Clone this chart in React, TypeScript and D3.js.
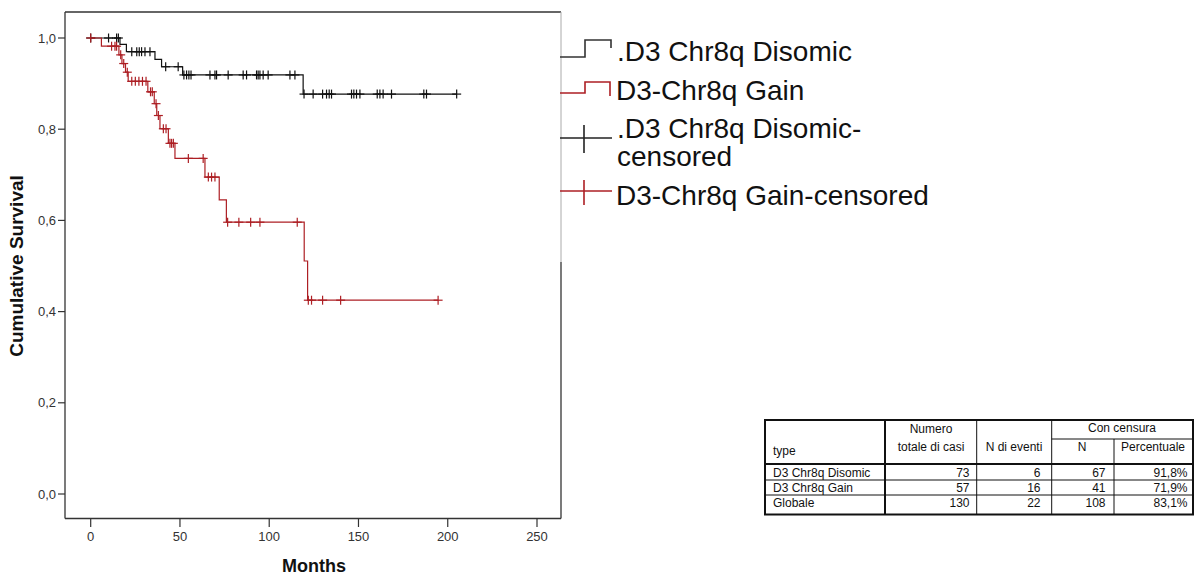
import React from "react";
import * as d3 from "d3";

// Kaplan–Meier curves: event times (months) and survival level after each event
const disomicEventTimes = [16.4, 20, 36, 39.7, 51.5, 119];
const disomicSurvival = [0.986, 0.97, 0.953, 0.937, 0.919, 0.877];
const disomicEnd = 205;
const disomicCensored = [
  0, 10, 14.5, 15.5, 23, 25.8, 27.2, 28.5, 30.4, 33.2, 42, 49, 52.2, 53.7, 55, 56.2,
  66.8, 69.6, 70.5, 77, 85.4, 87.3, 92.9, 93.8, 94.8, 96.6, 99.4, 111.6, 114.4, 119.5,
  124.6, 129.9, 132.1, 133.6, 134.9, 146.1, 147.4, 148.9, 150.8, 160.5, 162, 163.8,
  168.5, 186.6, 188.1, 205,
];

const gainEventTimes = [6, 15.8, 17.5, 19.5, 21, 32, 35.6, 37, 38.8, 43.5, 47.2, 64, 72, 76, 119.6, 121.5];
const gainSurvival = [
  0.982, 0.963, 0.944, 0.925, 0.905, 0.882, 0.856, 0.83, 0.801, 0.769, 0.736, 0.695, 0.645,
  0.596, 0.511, 0.425,
];
const gainEnd = 194.6;
const gainCensored = [
  0, 11.7, 13.6, 14.5, 16.8, 18.5, 20.5, 23, 25, 27, 29, 31, 33.5, 34.5, 36.6, 37.9, 40.7,
  42.2, 44.4, 45.3, 46.3, 54.7, 63, 65.9, 67.7, 69.6, 76.7, 83, 89.6, 94.8, 115.7, 121.9,
  123.7, 129.9, 140, 194.6,
];

const xTicks = [0, 50, 100, 150, 200, 250];
const yTicks = [0, 0.2, 0.4, 0.6, 0.8, 1.0];

const legendLabels = [".D3 Chr8q Disomic", "D3-Chr8q Gain", ".D3 Chr8q Disomic-", "censored", "D3-Chr8q Gain-censored"];

// Case processing summary
const tableGroups = ["D3 Chr8q Disomic", "D3 Chr8q Gain", "Globale"];
const tableTotals = [73, 57, 130];
const tableEvents = [6, 16, 22];
const tableCensoredN = [67, 41, 108];
const tableCensoredPct = ["91,8%", "71,9%", "83,1%"];

const BLACK = "#111";
const RED = "#ad1f24";
const FONT = "'Liberation Sans', Arial, sans-serif";

function stepPoints(times: number[], surv: number[], end: number): [number, number][] {
  const pts: [number, number][] = [[0, 1]];
  times.forEach((t, i) => pts.push([t, surv[i]]));
  pts.push([end, surv[surv.length - 1]]);
  return pts;
}

function survivalAt(times: number[], surv: number[], t: number): number {
  let s = 1;
  for (let i = 0; i < times.length; i++) if (times[i] <= t) s = surv[i];
  return s;
}

export default function App() {
  const frame = { left: 65, top: 12, right: 561, bottom: 518.5 };
  const x = d3.scaleLinear().domain([0, 250]).range([90.7, 537]);
  const y = d3.scaleLinear().domain([0, 1]).range([494, 38]);
  const line = d3
    .line<[number, number]>()
    .x((d) => x(d[0]))
    .y((d) => y(d[1]))
    .curve(d3.curveStepAfter);

  const series = [
    { times: disomicEventTimes, surv: disomicSurvival, end: disomicEnd, cens: disomicCensored, color: BLACK },
    { times: gainEventTimes, surv: gainSurvival, end: gainEnd, cens: gainCensored, color: RED },
  ];

  const fmt = (v: number) => v.toFixed(1).replace(".", ",");

  // table geometry
  const tL = 765, tT = 420, tR = 1193, tB = 514.5;
  const colX = [885, 976.7, 1051.7, 1114];
  const hdrB = 464, subH = 439;
  const rowLines = [480, 495];
  const rowBase = [476.5, 491.5, 507];
  const numRight = [969.5, 1040.5, 1105.5, 1187.5];

  return (
    <svg
      width={1195}
      height={577}
      style={{ position: "absolute", left: 0, top: 0, background: "#fff" }}
      fontFamily={FONT}
    >
      <rect x={0} y={0} width={1195} height={577} fill="#fff" />

      {/* plot frame */}
      <line x1={frame.left} x2={frame.left} y1={frame.top} y2={frame.bottom} stroke="#333" strokeWidth={1.3} />
      <line x1={frame.left} x2={frame.right} y1={frame.top} y2={frame.top} stroke="#333" strokeWidth={1.3} />
      <line x1={frame.left} x2={frame.right} y1={frame.bottom} y2={frame.bottom} stroke="#333" strokeWidth={1.3} />
      <line x1={frame.right} x2={frame.right} y1={frame.top} y2={262} stroke="#aaa" strokeWidth={1} />
      <line x1={frame.right} x2={frame.right} y1={262} y2={frame.bottom} stroke="#333" strokeWidth={1.3} />

      {/* y axis */}
      {yTicks.map((t) => (
        <g key={"y" + t}>
          <line x1={58} x2={frame.left} y1={y(t)} y2={y(t)} stroke="#333" strokeWidth={1.2} />
          <text x={56} y={y(t)} dy="0.35em" textAnchor="end" fontSize={13} fill="#333">
            {fmt(t)}
          </text>
        </g>
      ))}
      <text
        transform={`translate(23,${(y(0) + y(1)) / 2}) rotate(-90)`}
        textAnchor="middle"
        fontSize={19}
        fontWeight="bold"
        fill="#111"
      >
        Cumulative Survival
      </text>

      {/* x axis */}
      {xTicks.map((t) => (
        <g key={"x" + t}>
          <line x1={x(t)} x2={x(t)} y1={frame.bottom} y2={527} stroke="#333" strokeWidth={1.2} />
          <text x={x(t)} y={541} textAnchor="middle" fontSize={13} fill="#333">
            {t}
          </text>
        </g>
      ))}
      <text x={314} y={572} textAnchor="middle" fontSize={18} fontWeight="bold" fill="#111">
        Months
      </text>

      {/* survival curves with censoring marks */}
      {series.map((s, i) => (
        <g key={"s" + i}>
          <path d={line(stepPoints(s.times, s.surv, s.end)) || ""} fill="none" stroke={s.color} strokeWidth={1.2} />
          {s.cens.map((c, j) => {
            const cx = x(c);
            const cy = y(survivalAt(s.times, s.surv, c));
            return (
              <g key={j} stroke={s.color} strokeWidth={1.2}>
                <line x1={cx} x2={cx} y1={cy - 4.5} y2={cy + 4.5} />
                <line x1={cx - 4.5} x2={cx + 4.5} y1={cy} y2={cy} />
              </g>
            );
          })}
        </g>
      ))}

      {/* legend */}
      <g fill="none" strokeWidth={1.6}>
        <path d="M560,57 H585 V40 H611 V48" stroke="#333" />
        <path d="M560,93 H585 V82 H610 V96" stroke={RED} />
        <line x1={560} x2={612} y1={138} y2={138} stroke="#222" />
        <line x1={584} x2={584} y1={125} y2={153} stroke="#222" />
        <line x1={560} x2={612} y1={191} y2={191} stroke={RED} />
        <line x1={584} x2={584} y1={180} y2={205} stroke={RED} />
      </g>
      <g fontSize={28} fill="#111">
        <text x={617} y={61}>{legendLabels[0]}</text>
        <text x={616} y={100}>{legendLabels[1]}</text>
        <text x={617} y={138}>{legendLabels[2]}</text>
        <text x={617} y={166}>{legendLabels[3]}</text>
        <text x={616} y={205}>{legendLabels[4]}</text>
      </g>

      {/* case summary table */}
      <g stroke="#111" fill="none">
        <rect x={tL} y={tT} width={tR - tL} height={tB - tT} strokeWidth={2} />
        <line x1={tL} x2={tR} y1={hdrB} y2={hdrB} strokeWidth={2} />
        <line x1={colX[0]} x2={colX[0]} y1={tT} y2={tB} strokeWidth={2} />
        <line x1={colX[1]} x2={colX[1]} y1={tT} y2={tB} strokeWidth={1} />
        <line x1={colX[2]} x2={colX[2]} y1={tT} y2={tB} strokeWidth={1} />
        <line x1={colX[3]} x2={colX[3]} y1={subH} y2={tB} strokeWidth={1} />
        <line x1={colX[2]} x2={tR} y1={subH} y2={subH} strokeWidth={1} />
        {rowLines.map((r) => (
          <line key={r} x1={tL} x2={tR} y1={r} y2={r} strokeWidth={1} />
        ))}
      </g>
      <g fontSize={12} fill="#111">
        <text x={773} y={454.5}>type</text>
        <text x={931} y={433} textAnchor="middle">Numero</text>
        <text x={931} y={451} textAnchor="middle">totale di casi</text>
        <text x={1014} y={451} textAnchor="middle">N di eventi</text>
        <text x={1122} y={431.5} textAnchor="middle">Con censura</text>
        <text x={1082} y={451} textAnchor="middle">N</text>
        <text x={1153} y={451} textAnchor="middle">Percentuale</text>
        {tableGroups.map((g, i) => (
          <g key={g}>
            <text x={773} y={rowBase[i]}>{g}</text>
            <text x={numRight[0]} y={rowBase[i]} textAnchor="end">{tableTotals[i]}</text>
            <text x={numRight[1]} y={rowBase[i]} textAnchor="end">{tableEvents[i]}</text>
            <text x={numRight[2]} y={rowBase[i]} textAnchor="end">{tableCensoredN[i]}</text>
            <text x={numRight[3]} y={rowBase[i]} textAnchor="end">{tableCensoredPct[i]}</text>
          </g>
        ))}
      </g>
    </svg>
  );
}
